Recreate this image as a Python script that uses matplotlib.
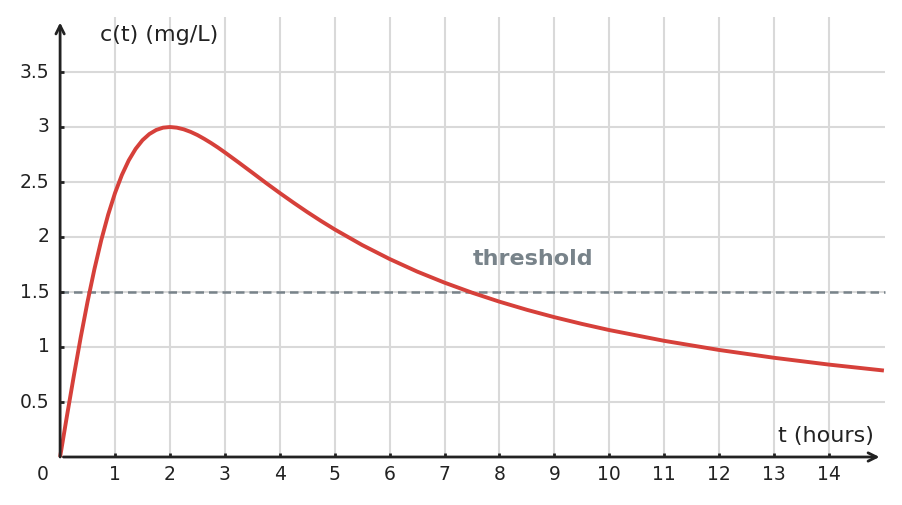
import matplotlib
matplotlib.use("Agg")
import matplotlib.pyplot as plt

plt.rcParams["font.family"] = ["DejaVu Sans"]

# concentration curve
t_hours = [0, 0.125, 0.25, 0.375, 0.5, 0.625, 0.75, 0.875, 1, 1.125, 1.25, 1.375,
           1.5, 1.625, 1.75, 1.875, 2, 2.125, 2.25, 2.375, 2.5, 2.625, 2.75, 2.875,
           3, 3.25, 3.5, 3.75, 4, 4.25, 4.5, 4.75, 5, 5.5,
           6, 6.5, 7, 7.5, 8, 8.5, 9, 9.5, 10, 11, 12, 13, 14, 15]
conc = [0, 0.374, 0.738, 1.087, 1.412, 1.708, 1.973, 2.203, 2.4, 2.564, 2.697, 2.801,
        2.88, 2.936, 2.973, 2.994, 3.0, 2.994, 2.979, 2.956, 2.927, 2.892, 2.854, 2.813,
        2.769, 2.678, 2.585, 2.491, 2.4, 2.312, 2.227, 2.146,
        2.069, 1.927, 1.8, 1.686, 1.585, 1.494, 1.412, 1.338, 1.271, 1.21, 1.154,
        1.056, 0.973, 0.902, 0.84, 0.786]
threshold = 1.5
x_ticks = list(range(1, 15))
y_ticks = [0.5, 1, 1.5, 2, 2.5, 3, 3.5]
y_tick_labels = ["0.5", "1", "1.5", "2", "2.5", "3", "3.5"]

RED = "#d6403a"
GRAY = "#78838a"
GRID = "#d9d9d9"
INK = "#222222"

fig = plt.figure(figsize=(9.02, 5.05), dpi=100)
ax = fig.add_axes([0, 0, 1, 1])
ax.set_axis_off()
# pixel calibration: t=0 at x=60.1px, 54.92px per hour; c=0 at y=457px, 110px per mg/L
x0, sx = 60.1, 54.92
y0, sy = 457, 110
ax.set_xlim(-x0 / sx, (902 - x0) / sx)
ax.set_ylim(-(505 - y0) / sy, y0 / sy)

# grid
ax.vlines(x_ticks, 0, 4.0, color=GRID, lw=1.5, zorder=1)
ax.hlines(y_ticks, 0, 15.02, color=GRID, lw=1.5, zorder=1)

# threshold
ax.plot([0, 15.02], [threshold, threshold], color=GRAY, lw=1.8,
        dashes=(3.4, 2.0), zorder=2)
ax.text(8.61, 1.80, "threshold", color=GRAY, fontsize=16, fontweight="bold",
        ha="center", va="center")

# curve
ax.plot(t_hours, conc, color=RED, lw=2.8, solid_capstyle="butt",
        solid_joinstyle="round", zorder=4)

# axes with arrows
ax.annotate("", xy=(14.92, 0), xytext=(0.06, 0),
            arrowprops=dict(arrowstyle="->,head_length=0.6,head_width=0.3",
                            lw=2.0, color=INK, shrinkA=0, shrinkB=0), zorder=5)
ax.annotate("", xy=(0, 3.95), xytext=(0, 0),
            arrowprops=dict(arrowstyle="->,head_length=0.6,head_width=0.3",
                            lw=2.0, color=INK, shrinkA=0, shrinkB=0), zorder=5)

# tick marks
tx = 4 / sx
ty = 4 / sy
for x in x_ticks:
    ax.plot([x, x], [0, ty], color=INK, lw=2.0, solid_capstyle="butt", zorder=5)
    ax.text(x, -0.155, str(x), fontsize=13.5, color=INK, ha="center", va="center")
for y, lab in zip(y_ticks, y_tick_labels):
    ax.plot([0, tx], [y, y], color=INK, lw=2.0, solid_capstyle="butt", zorder=5)
    ax.text(-0.19, y, lab, fontsize=13.5, color=INK, ha="right", va="center")
ax.text(-0.31, -0.155, "0", fontsize=13.5, color=INK, ha="center", va="center")

# axis labels
ax.text(0.72, 3.836, "c(t) (mg/L)", fontsize=16, color=INK, ha="left", va="center")
ax.text(13.07, 0.19, "t (hours)", fontsize=16, color=INK, ha="left", va="center")

fig.savefig("out.png", dpi=100)
